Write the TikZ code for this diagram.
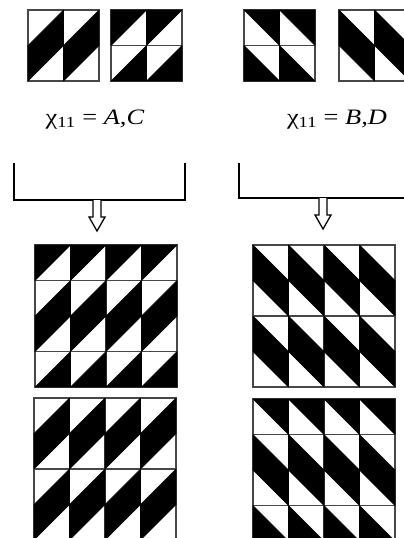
\documentclass[tikz,border=0pt]{standalone}
\usepackage{fontspec}
\setmainfont{Liberation Serif}
\tikzset{
  cellline/.style = {draw=black!72, line width=1.6pt},
  blk/.style = {fill=black, draw=black, line width=0.6pt, line join=round},
  brk/.style = {draw=black, line width=1.3pt},
  hollowarrow/.style = {draw=black, line width=1.3pt, fill=white,
    line join=miter},
  lbl/.style = {anchor=base, inner sep=0pt,
    font=\fontsize{22}{26}\selectfont}
}
\newcommand{\cellsz}{35.5}% side of one cell
% black half of a cell, named by the corner it covers
\newcommand{\cellUL}[2]{\filldraw[blk] (#1,#2) -- ++(\cellsz,0) -- ++(-\cellsz,\cellsz) -- cycle;}
\newcommand{\cellLR}[2]{\filldraw[blk] (#1+\cellsz,#2) -- ++(0,\cellsz) -- ++(-\cellsz,0) -- cycle;}
\newcommand{\cellUR}[2]{\filldraw[blk] (#1,#2) -- ++(\cellsz,0) -- ++(0,\cellsz) -- cycle;}
\newcommand{\cellLL}[2]{\filldraw[blk] (#1,#2) -- ++(0,\cellsz) -- ++(\cellsz,0) -- cycle;}
% #1,#2 top left corner, #3 last column, #4 kinds of the rows
\newcommand{\tiling}[4]{%
  \begin{scope}[shift={(#1,#2)}]
    \foreach \kind [count=\row from 0] in {#4} {
      \foreach \col in {0,...,#3} {
        \draw[cellline] (\col*\cellsz,\row*\cellsz) rectangle ++(\cellsz,\cellsz);
      }
    }
    \foreach \kind [count=\row from 0] in {#4} {
      \foreach \col in {0,...,#3} {
        \csname cell\kind\endcsname{\col*\cellsz}{\row*\cellsz}
      }
    }
  \end{scope}}

\begin{document}
\begin{tikzpicture}[x=1pt,y=-1pt]
  \useasboundingbox (0,0) rectangle (404,538);
  % small tiles
  \tiling{28}{10}{1}{LR,UL}
  \tiling{111}{10}{1}{UL,LR}
  \tiling{244}{10}{1}{UR,LL}
  \tiling{339}{10}{1}{LL,UR}
  % labels
  \node[lbl] (lblAC) at (95,124) {\scalebox{1.2}[1]{χ\textsubscript{11} = \textit{A,C}}};
  \node[lbl] (lblBD) at (337,124) {\scalebox{1.2}[1]{χ\textsubscript{11} = \textit{B,D}}};
  % brackets
  \coordinate (brkAC) at (14,163);
  \coordinate (brkBD) at (239,163);
  \coordinate (outAC) at (97,200);
  \coordinate (outBD) at (323,198);
  \draw[brk] (brkAC) |- (185,200) -- (185,163);
  \draw[brk] (brkBD) |- (410,198);
  \foreach \out in {outAC,outBD}
    \draw[hollowarrow] (\out) ++(-4,0) -- ++(0,17) -- ++(-4,0) -- ++(8,14)
      -- ++(8,-14) -- ++(-4,0) -- ++(0,-17);
  % large tilings
  \tiling{35}{245}{3}{UL,LR,UL,LR}
  \tiling{34}{398}{3}{LR,UL,LR,UL}
  \tiling{253}{245}{3}{LL,UR,LL,UR}
  \tiling{253}{399}{3}{UR,LL,UR,LL}
\end{tikzpicture}
\end{document}
